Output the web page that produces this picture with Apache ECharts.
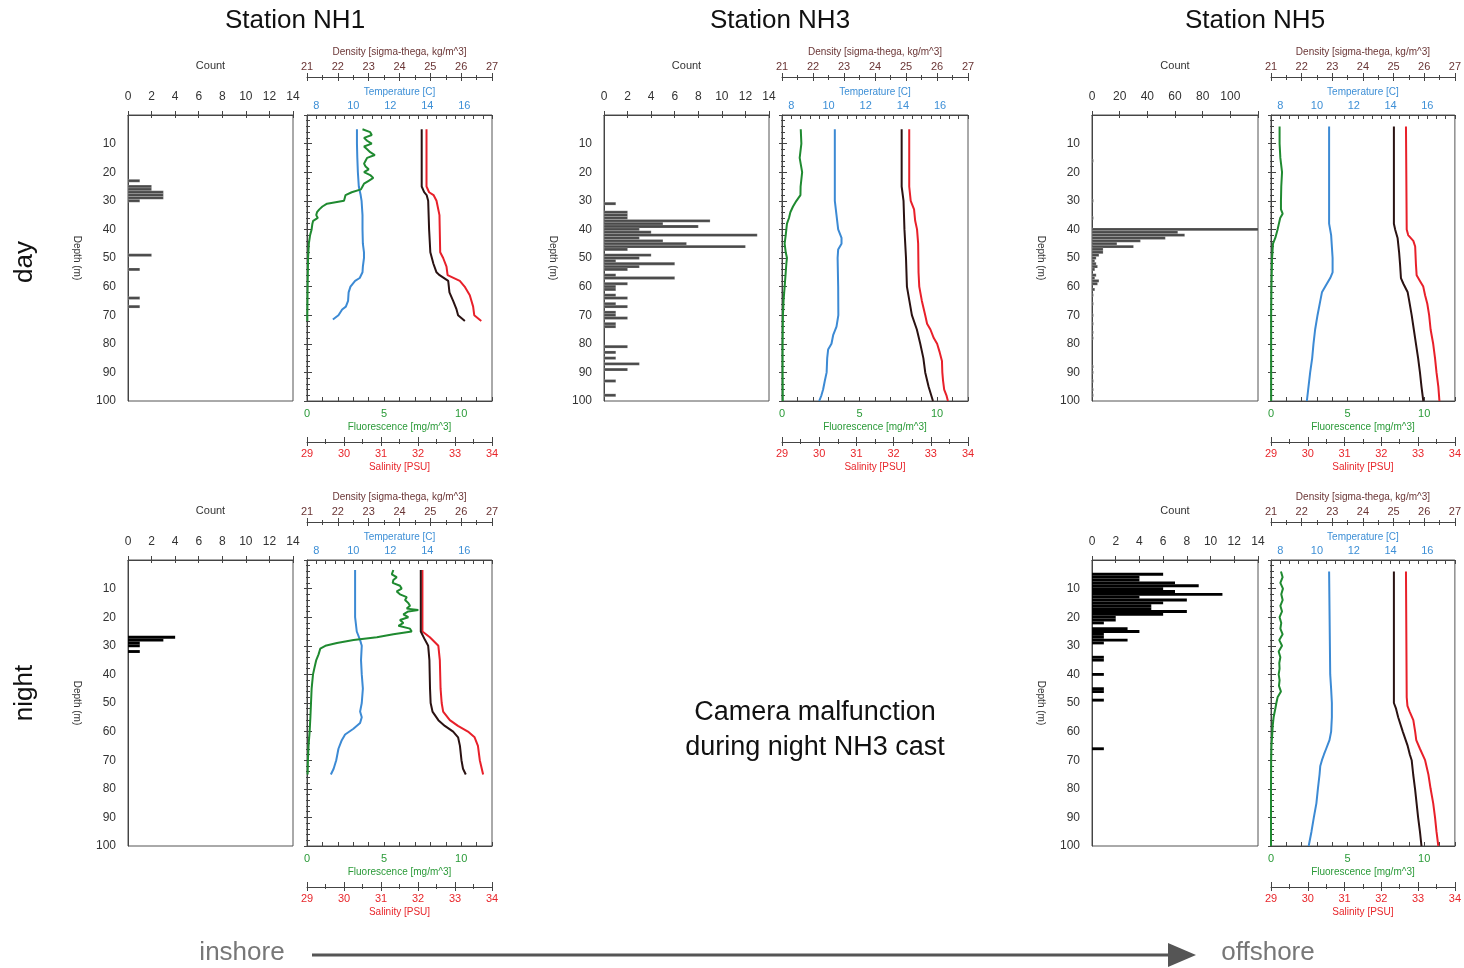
<!DOCTYPE html>
<html><head><meta charset="utf-8">
<script src="https://cdn.jsdelivr.net/npm/echarts@6/dist/echarts.min.js"></script>
<style>html,body{margin:0;padding:0;background:#fff}#c{width:1464px;height:968px}</style>
</head><body><div id="c"></div>
<script>
// ---------------- DATA ----------------
const stations = ['Station NH1', 'Station NH3', 'Station NH5'];
const rowNames = ['day', 'night'];
const noteText = ['Camera malfunction', 'during night NH3 cast'];

// histogram counts: [depth (m), count]
const nh1DayCounts = [[23,1],[25,2],[26,2],[27,3],[28,3],[29,3],[30,1],[49,2],[54,1],[64,1],[67,1]];
const nh3DayCounts = [[31,1],[34,2],[35,2],[36,2],[37,9],[38,5],[39,8],[40,3],[41,4],[42,13],[43,3],[44,5],[45,7],[46,12],[47,2],[49,4],[50,3],[51,1],[52,6],[53,3],[54,2],[56,1],[57,6],[59,2],[60,1],[61,1],[63,1],[64,2],[66,1],[67,2],[69,1],[70,1],[71,2],[73,1],[74,1],[81,2],[83,1],[85,1],[87,3],[89,2],[93,1],[98,1]];
const nh5DayCounts = [[16,1],[30,1],[36,1],[40,125],[41,62],[42,67],[43,53],[44,35],[45,18],[46,30],[47,8],[48,8],[49,5],[50,3],[51,2],[52,3],[53,4],[54,2],[56,3],[57,2],[58,5],[59,4],[61,2],[63,1],[66,1],[70,1],[73,1],[76,1],[78,1],[88,1],[90,1],[93,1],[96,1],[98,1]];
const nh1NightCounts = [[27,4],[28,3],[29,1],[30,1],[32,1]];
const nh5NightCounts = [[5,6],[6,4],[7,4],[8,7],[9,9],[10,6],[11,7],[12,11],[13,4],[14,8],[15,6],[16,5],[17,5],[18,8],[19,6],[20,2],[21,2],[22,1],[24,3],[25,4],[26,1],[27,1],[28,3],[29,1],[34,1],[35,1],[40,1],[45,1],[46,1],[49,1],[66,1]];

// profiles: [depth (m), value]
const nh1DayFluor = [[5,3.6],[6,4.1],[7,4.2],[8,3.7],[9,3.9],[10,4.2],[11,3.7],[12,3.9],[13,4.1],[14,4.4],[15,3.9],[16,3.8],[17,3.7],[18,3.8],[19,4.0],[20,3.7],[21,4.1],[22,4.3],[23,4.0],[24,3.7],[25,3.6],[26,3.5],[27,2.9],[28,2.5],[29,2.45],[30,2.4],[31,1.3],[32,1.0],[33,0.8],[34,0.65],[35,0.6],[36,0.7],[37,0.4],[38,0.35],[40,0.3],[42,0.2],[45,0.12],[50,0.07],[60,0.04],[70,0.02],[72,0.02]];
const nh1DayTemp = [[5,10.2],[10,10.2],[15,10.22],[20,10.25],[25,10.3],[28,10.4],[30,10.45],[35,10.5],[40,10.5],[45,10.52],[48,10.58],[50,10.58],[53,10.52],[55,10.5],[57,10.35],[58,10.1],[60,9.85],[62,9.75],[65,9.72],[67,9.6],[68,9.4],[70,9.2],[71.5,8.9]];
const nh1DayDens = [[5,24.72],[25,24.72],[27,24.8],[28,24.88],[30,24.93],[40,24.96],[48,25.0],[52,25.1],[55,25.2],[56,25.3],[58,25.58],[62,25.62],[65,25.74],[68,25.85],[70,25.9],[72,26.12]];
const nh1DaySal = [[5,32.23],[25,32.23],[27,32.3],[28,32.42],[30,32.5],[35,32.58],[48,32.6],[50,32.68],[53,32.77],[56,32.8],[58,33.13],[60,33.26],[63,33.4],[67,33.49],[70,33.52],[72,33.71]];

const nh3DayFluor = [[5,1.21],[10,1.25],[15,1.14],[20,1.3],[25,1.2],[28,1.19],[30,0.93],[32,0.71],[34,0.54],[36,0.45],[38,0.32],[40,0.28],[42,0.24],[45,0.17],[48,0.24],[50,0.32],[52,0.28],[55,0.24],[60,0.17],[65,0.1],[70,0.06],[80,0.04],[90,0.04],[100,0.05]];
const nh3DayTemp = [[5,10.34],[30,10.34],[35,10.43],[40,10.52],[43,10.7],[45,10.7],[47,10.52],[50,10.49],[60,10.52],[70,10.53],[74,10.43],[77,10.25],[80,10.16],[82,9.98],[85,9.93],[90,9.9],[93,9.8],[96,9.71],[98,9.62],[100,9.5]];
const nh3DayDens = [[5,24.86],[25,24.86],[30,24.92],[40,24.95],[50,25.0],[60,25.03],[65,25.11],[70,25.19],[75,25.35],[80,25.46],[85,25.56],[90,25.62],[95,25.73],[100,25.87]];
const nh3DaySal = [[5,32.42],[25,32.42],[30,32.46],[33,32.55],[37,32.58],[40,32.63],[45,32.66],[55,32.67],[60,32.69],[65,32.76],[70,32.85],[73,32.9],[75,32.99],[78,33.08],[80,33.17],[83,33.24],[86,33.3],[90,33.31],[93,33.33],[96,33.36],[98,33.42],[100,33.46]];

const nh5DayFluor = [[4,0.56],[10,0.56],[15,0.61],[20,0.72],[25,0.67],[30,0.65],[33,0.65],[34.5,0.76],[36,0.6],[40,0.43],[43,0.28],[45,0.13],[50,0.07],[60,0.03],[70,0.01],[100,0.01]];
const nh5DayTemp = [[4,10.66],[38,10.66],[42,10.77],[50,10.85],[55,10.85],[57,10.72],[60,10.45],[62,10.27],[65,10.18],[70,10.03],[75,9.9],[80,9.81],[85,9.74],[90,9.63],[95,9.54],[100,9.45]];
const nh5DayDens = [[4,25.01],[38,25.01],[40,25.05],[43,25.13],[48,25.18],[52,25.21],[57,25.24],[59,25.32],[62,25.46],[65,25.51],[70,25.59],[75,25.66],[80,25.73],[85,25.8],[90,25.86],[95,25.91],[100,25.97]];
const nh5DaySal = [[4,32.67],[40,32.69],[42,32.73],[44,32.87],[46,32.92],[52,32.94],[56,32.96],[58,33.05],[60,33.14],[63,33.19],[66,33.25],[70,33.3],[75,33.34],[80,33.41],[85,33.46],[90,33.5],[95,33.55],[100,33.58]];

const nh1NightFluor = [[3.5,5.6],[5,5.5],[6,5.82],[7,5.6],[8,5.56],[9,6.03],[10,6.14],[11,5.82],[12,6.03],[13,6.47],[14,6.36],[15,6.57],[16,6.68],[17,6.47],[17.5,7.22],[18,6.57],[19,6.25],[20,6.57],[21,6.03],[22,6.25],[23,5.93],[24,6.68],[25,6.79],[26,5.6],[27,4.53],[28,3.02],[29,1.94],[30,1.19],[31,0.86],[33,0.75],[35,0.6],[38,0.47],[40,0.39],[45,0.3],[50,0.26],[55,0.22],[60,0.17],[65,0.1],[70,0.06],[75,0.04]];
const nh1NightTemp = [[3.5,10.1],[20,10.1],[25,10.19],[28,10.37],[30,10.46],[35,10.42],[40,10.46],[45,10.52],[50,10.46],[53,10.37],[55,10.46],[57,10.37],[59,10.01],[61,9.56],[63,9.38],[66,9.2],[70,9.08],[73,8.94],[75,8.79]];
const nh1NightDens = [[3.5,24.69],[25,24.69],[28,24.83],[30,24.93],[35,24.97],[45,24.99],[50,25.01],[53,25.07],[56,25.26],[58,25.47],[60,25.74],[62,25.9],[65,25.96],[70,26.01],[73,26.06],[75,26.15]];
const nh1NightSal = [[3.5,32.12],[25,32.12],[27,32.32],[30,32.55],[35,32.59],[45,32.61],[50,32.64],[53,32.68],[56,32.86],[58,33.08],[60,33.35],[62,33.53],[65,33.62],[70,33.67],[75,33.76]];

const nh5NightFluor = [[4,0.65],[6,0.76],[8,0.61],[10,0.78],[12,0.67],[14,0.76],[16,0.61],[18,0.72],[20,0.56],[22,0.67],[24,0.61],[26,0.76],[28,0.54],[30,0.72],[32,0.5],[34,0.61],[36,0.54],[38,0.56],[40,0.5],[42,0.56],[44,0.52],[46,0.65],[48,0.43],[50,0.35],[52,0.28],[55,0.17],[58,0.11],[60,0.09],[65,0.03],[70,0.01],[80,0.0],[100,0.0]];
const nh5NightTemp = [[4,10.66],[40,10.72],[45,10.77],[50,10.81],[55,10.81],[60,10.77],[63,10.68],[66,10.5],[68,10.38],[70,10.27],[72,10.18],[75,10.14],[80,10.05],[85,9.97],[90,9.83],[95,9.7],[100,9.55]];
const nh5NightDens = [[4,25.01],[50,25.01],[52,25.08],[55,25.15],[60,25.3],[65,25.46],[68,25.53],[70,25.59],[75,25.64],[80,25.7],[85,25.75],[90,25.8],[95,25.86],[100,25.91]];
const nh5NightSal = [[4,32.67],[48,32.69],[51,32.71],[53,32.77],[56,32.87],[60,32.92],[63,32.95],[66,33.05],[70,33.19],[75,33.28],[80,33.34],[85,33.41],[90,33.46],[95,33.5],[100,33.55]];

// ---------------- LAYOUT / STYLE ----------------
const FONT = 'Liberation Sans, Arial, sans-serif';
const AX = '#444';
const C_FL = '#1f8a30', C_T = '#3c8ad4', C_S = '#e8202a', C_D = '#2a1212';
const L_FL = '#2a9a38', L_T = '#3d8fd6', L_S = '#e8262b', L_D = '#6a3535';
const colHist = [[128,165],[604,165],[1092,166]];
const colProf = [[307,185],[782,186],[1271,184]];
const rowTop = [115, 560];
const H = 286;

const panels = [
  {row:0,col:0,counts:nh1DayCounts,fl:nh1DayFluor,t:nh1DayTemp,d:nh1DayDens,s:nh1DaySal,cmax:14,cint:2,fill:'#4a4a4a',stroke:'rgba(255,255,255,0.45)'},
  {row:0,col:1,counts:nh3DayCounts,fl:nh3DayFluor,t:nh3DayTemp,d:nh3DayDens,s:nh3DaySal,cmax:14,cint:2,fill:'#4a4a4a',stroke:'rgba(255,255,255,0.45)'},
  {row:0,col:2,counts:nh5DayCounts,fl:nh5DayFluor,t:nh5DayTemp,d:nh5DayDens,s:nh5DaySal,cmax:120,cint:20,fill:'#4a4a4a',stroke:'rgba(255,255,255,0.45)'},
  {row:1,col:0,counts:nh1NightCounts,fl:nh1NightFluor,t:nh1NightTemp,d:nh1NightDens,s:nh1NightSal,cmax:14,cint:2,fill:'#000',stroke:null},
  {row:1,col:2,counts:nh5NightCounts,fl:nh5NightFluor,t:nh5NightTemp,d:nh5NightDens,s:nh5NightSal,cmax:14,cint:2,fill:'#000',stroke:null}
];

const grids = [], xAxes = [], yAxes = [], series = [];
function addGrid(left, top, width, height) {
  grids.push({left, top, width, height, show:true, borderColor:'#555', borderWidth:1, backgroundColor:'rgba(0,0,0,0)', containLabel:false});
  return grids.length - 1;
}
function base(g, o) {
  return Object.assign({gridIndex:g, type:'value', splitLine:{show:false}, axisPointer:{show:false}}, o);
}
function addX(g, o) { xAxes.push(base(g, o)); return xAxes.length - 1; }
function addY(g, o) { yAxes.push(base(g, o)); return yAxes.length - 1; }
const tickLine = {color:AX, width:1};
function lineOn(show) { return {show, onZero:false, lineStyle:{color:AX, width:1}}; }

panels.forEach(p => {
  const top = rowTop[p.row];
  // ---- histogram ----
  const [hl, hw] = colHist[p.col];
  const gH = addGrid(hl, top, hw, H);
  const xc = addX(gH, {position:'top', min:0, max:p.cmax, interval:p.cint,
    axisLine:lineOn(true), axisTick:{show:true, length:4, lineStyle:tickLine},
    axisLabel:{fontSize:12, color:'#333', margin:12, fontFamily:FONT,
      formatter: v => (p.cmax === 120 && v === 120) ? '' : String(v)},
    name:'Count', nameLocation:'middle', nameGap:44, nameTextStyle:{fontSize:11, color:'#333', fontFamily:FONT}});
  addX(gH, {position:'top', min:0, max:p.cmax, interval:p.cint, axisLine:lineOn(false),
    axisTick:{show:true, inside:true, length:3, lineStyle:tickLine}, axisLabel:{show:false}});
  const yh = addY(gH, {position:'left', inverse:true, min:0, max:100, interval:10,
    axisLine:lineOn(true), axisTick:{show:false},
    axisLabel:{fontSize:12, color:'#333', margin:12, fontFamily:FONT, formatter: v => v === 0 ? '' : String(v)},
    name:'Depth (m)', nameLocation:'middle', nameRotate:-90, nameGap:46,
    nameTextStyle:{fontSize:10, color:'#333', fontFamily:FONT}});
  series.push({type:'custom', xAxisIndex:xc, yAxisIndex:yh, clip:true, silent:true,
    data: p.counts.map(([d, c]) => [c, d]),
    renderItem: (params, api) => {
      const c = api.value(0), d = api.value(1);
      const a = api.coord([0, d - 0.5]), b = api.coord([c, d + 0.5]);
      const style = {fill:p.fill};
      if (p.stroke) { style.stroke = p.stroke; style.lineWidth = 0.4; }
      return {type:'rect', shape:{x:a[0], y:a[1], width:b[0]-a[0], height:b[1]-a[1]}, style};
    }});

  // ---- profile ----
  const [pl, pw] = colProf[p.col];
  const gP = addGrid(pl, top, pw, H);
  const xd = addX(gP, {position:'top', offset:38, min:21, max:27, interval:1,
    axisLine:lineOn(true), axisTick:{show:true, length:4, lineStyle:tickLine},
    minorTick:{show:true, splitNumber:2, length:2, lineStyle:tickLine},
    axisLabel:{fontSize:11, color:L_D, margin:5, fontFamily:FONT},
    name:'Density [sigma-thega, kg/m^3]', nameLocation:'middle', nameGap:20,
    nameTextStyle:{fontSize:10, color:L_D, fontFamily:FONT}});
  addX(gP, {position:'top', offset:38, min:21, max:27, interval:1, axisLine:lineOn(false),
    axisTick:{show:true, inside:true, length:4, lineStyle:tickLine},
    minorTick:{show:true, splitNumber:2, length:3, lineStyle:tickLine}, axisLabel:{show:false}});
  const xt = addX(gP, {position:'top', offset:0, min:7.5, max:17.5, interval:0.5,
    axisLine:lineOn(true), axisTick:{show:true, inside:true, length:4, lineStyle:tickLine},
    axisLabel:{fontSize:11, color:L_T, margin:4, fontFamily:FONT,
      formatter: v => (Math.abs(v % 2) < 1e-6) ? String(v) : ''},
    name:'Temperature [C]', nameLocation:'middle', nameGap:18,
    nameTextStyle:{fontSize:10, color:L_T, fontFamily:FONT}});
  const xf = addX(gP, {position:'bottom', offset:0, min:0, max:12, interval:1,
    axisLine:lineOn(true), axisTick:{show:true, inside:true, length:4, lineStyle:tickLine},
    axisLabel:{fontSize:11, color:L_FL, margin:7, fontFamily:FONT,
      formatter: v => (v % 5 === 0) ? String(v) : ''},
    name:'Fluorescence [mg/m^3]', nameLocation:'middle', nameGap:21,
    nameTextStyle:{fontSize:10, color:L_FL, fontFamily:FONT}});
  const xs = addX(gP, {position:'bottom', offset:41, min:29, max:34, interval:1,
    axisLine:lineOn(true), axisTick:{show:true, length:4, lineStyle:tickLine},
    minorTick:{show:true, splitNumber:2, length:2, lineStyle:tickLine},
    axisLabel:{fontSize:11, color:L_S, margin:6, fontFamily:FONT},
    name:'Salinity [PSU]', nameLocation:'middle', nameGap:20,
    nameTextStyle:{fontSize:10, color:L_S, fontFamily:FONT}});
  addX(gP, {position:'bottom', offset:41, min:29, max:34, interval:1, axisLine:lineOn(false),
    axisTick:{show:true, inside:true, length:5, lineStyle:tickLine},
    minorTick:{show:true, splitNumber:2, length:3, lineStyle:tickLine}, axisLabel:{show:false}});
  const yd = addY(gP, {position:'left', inverse:true, min:0, max:100, interval:10,
    axisLine:lineOn(true), axisTick:{show:true, inside:true, length:5, lineStyle:tickLine},
    minorTick:{show:true, splitNumber:5, length:3, lineStyle:tickLine}, axisLabel:{show:false}});
  addY(gP, {position:'left', inverse:true, min:0, max:100, interval:10, axisLine:lineOn(false),
    axisTick:{show:true, inside:false, length:3, lineStyle:tickLine},
    minorTick:{show:true, splitNumber:5, length:1, lineStyle:tickLine}, axisLabel:{show:false}});

  const mk = (arr, xi, color, z) => series.push({type:'line', xAxisIndex:xi, yAxisIndex:yd,
    data: arr.map(([d, v]) => [v, d]), showSymbol:false, symbol:'none', silent:true, z,
    lineStyle:{color, width:2}, itemStyle:{color}});
  mk(p.t, xt, C_T, 2);
  mk(p.s, xs, C_S, 3);
  mk(p.d, xd, C_D, 4);
  mk(p.fl, xf, C_FL, 5);
});

const titleX = [295, 780, 1255];
const graphic = [];
stations.forEach((s, i) => graphic.push({type:'text', x:titleX[i], y:21,
  style:{text:s, fill:'#111', font:'26px ' + FONT, textAlign:'center', textVerticalAlign:'middle'}}));
rowNames.forEach((s, i) => graphic.push({type:'text', x:25, y:[262, 693][i], rotation:Math.PI/2,
  style:{text:s, fill:'#111', font:'26px ' + FONT, textAlign:'center', textVerticalAlign:'middle'}}));
noteText.forEach((s, i) => graphic.push({type:'text', x:815, y:[713, 748][i],
  style:{text:s, fill:'#111', font:'27px ' + FONT, textAlign:'center', textVerticalAlign:'middle'}}));
graphic.push({type:'text', x:242, y:953, style:{text:'inshore', fill:'#777', font:'26px ' + FONT, textAlign:'center', textVerticalAlign:'middle'}});
graphic.push({type:'text', x:1268, y:953, style:{text:'offshore', fill:'#777', font:'26px ' + FONT, textAlign:'center', textVerticalAlign:'middle'}});
graphic.push({type:'line', shape:{x1:312, y1:955, x2:1176, y2:955}, style:{stroke:'#555', lineWidth:3}});
graphic.push({type:'polygon', shape:{points:[[1168,943],[1196,955],[1168,967]]}, style:{fill:'#555'}});

const chart = echarts.init(document.getElementById('c'), null, {renderer:'canvas'});
chart.setOption({
  animation:false,
  backgroundColor:'#fff',
  textStyle:{fontFamily:FONT},
  grid:grids, xAxis:xAxes, yAxis:yAxes, series, graphic
});
</script></body></html>
